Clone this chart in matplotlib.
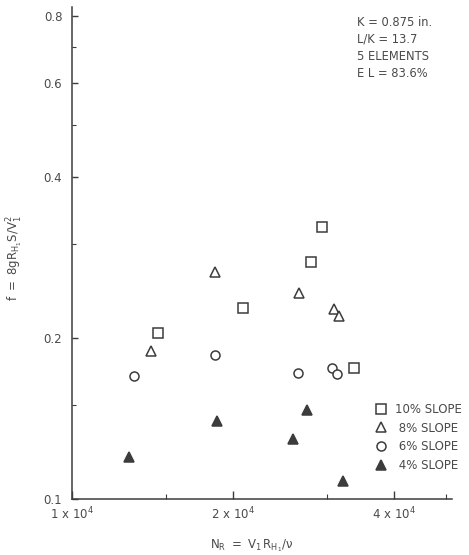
import matplotlib
matplotlib.use("Agg")
import matplotlib.pyplot as plt
from matplotlib.lines import Line2D
from matplotlib.ticker import FixedLocator, NullFormatter

plt.rcParams['font.family'] = ['DejaVu Sans']
plt.rcParams['mathtext.fontset'] = 'dejavusans'
plt.rcParams['mathtext.default'] = 'regular'

INK = '#3c3c3c'
TEXT = '#4a4a4a'

# Reynolds number and friction factor for each slope series
nr_10 = [14500, 20850, 27950, 29300, 33700]
f_10 = [0.204, 0.228, 0.278, 0.322, 0.176]

nr_8 = [14030, 18480, 26600, 30900, 31600]
f_8 = [0.189, 0.266, 0.243, 0.227, 0.220]

nr_6 = [13080, 18510, 26460, 30590, 31250]
f_6 = [0.170, 0.186, 0.172, 0.176, 0.171]

nr_4 = [12780, 18690, 25930, 27470, 32160]
f_4 = [0.120, 0.140, 0.1295, 0.147, 0.108]

series_labels = ['10% SLOPE', ' 8% SLOPE', ' 6% SLOPE', ' 4% SLOPE']

y_ticks = [0.1, 0.2, 0.4, 0.6, 0.8]
y_tick_labels = ['0.1', '0.2', '0.4', '0.6', '0.8']
y_minor = [0.15, 0.3, 0.5, 0.7]
x_ticks = [1e4, 2e4, 4e4]
x_tick_labels = [r'$1\ x\ 10^4$', r'$2\ x\ 10^4$', r'$4\ x\ 10^4$']
x_minor = [1.5e4, 3e4, 5e4]

notes = ['K = 0.875 in.', 'L/K = 13.7', '5 ELEMENTS', 'E L = 83.6%']

fig = plt.figure(figsize=(4.69, 5.55), dpi=100)
ax = fig.add_axes([72 / 469, 1 - 499 / 555, 380 / 469, 492 / 555])
ax.set_xscale('log')
ax.set_yscale('log')
ax.set_xlim(1e4, 5.134e4)
ax.set_ylim(0.1, 0.832)

ms = 6.5
mew = 1.1
styles = [
    dict(marker='s', mfc='white', mec=INK),
    dict(marker='^', mfc='white', mec=INK),
    dict(marker='o', mfc='white', mec=INK),
    dict(marker='^', mfc=INK, mec=INK),
]
for (xs, ys), st in zip([(nr_10, f_10), (nr_8, f_8), (nr_6, f_6), (nr_4, f_4)], styles):
    ax.plot(xs, ys, linestyle='none', ms=ms, mew=mew, **st)

for side in ['top', 'right']:
    ax.spines[side].set_visible(False)
for side in ['left', 'bottom']:
    ax.spines[side].set_color(INK)
    ax.spines[side].set_linewidth(1.1)

ax.yaxis.set_major_locator(FixedLocator(y_ticks))
ax.set_yticklabels(y_tick_labels)
ax.yaxis.set_minor_locator(FixedLocator(y_minor))
ax.yaxis.set_minor_formatter(NullFormatter())
ax.xaxis.set_major_locator(FixedLocator(x_ticks))
ax.set_xticklabels(x_tick_labels)
ax.xaxis.set_minor_locator(FixedLocator(x_minor))
ax.xaxis.set_minor_formatter(NullFormatter())

ax.tick_params(axis='both', which='both', direction='in', colors=INK,
               labelcolor=TEXT, labelsize=8.5)
ax.tick_params(axis='y', which='major', length=4.5, width=1.0, pad=7)
ax.tick_params(axis='y', which='minor', length=3, width=0.8)
ax.tick_params(axis='x', which='major', length=5.5, width=1.0, pad=5)
ax.tick_params(axis='x', which='minor', length=3.5, width=0.8)

ax.set_xlabel(r'$N_R\ =\ V_1\,R_{H_1}/\nu$', fontsize=8.5, color=TEXT)
ax.xaxis.set_label_coords(0.474, -0.079)
ax.set_ylabel(r'$f\ =\ 8gR_{H_1}S/V_1^2$', fontsize=8.5, color=TEXT)
ax.yaxis.set_label_coords(-0.124, 0.49)

for i, line in enumerate(notes):
    fig.text(357 / 469, 1 - (22 + 17.3 * i) / 555, line, fontsize=8.3,
             color=TEXT, ha='left', va='center')

handles = [Line2D([], [], linestyle='none', ms=ms, mew=mew, **st) for st in styles]
leg = ax.legend(handles, series_labels, loc='center left', frameon=False,
                bbox_to_anchor=(375 / 469, 1 - 437.5 / 555), bbox_transform=fig.transFigure,
                fontsize=8.5, handlelength=1.0, handletextpad=0.7, labelspacing=0.5,
                borderpad=0, borderaxespad=0)
for t in leg.get_texts():
    t.set_color(TEXT)

fig.savefig('out.png', dpi=100)
